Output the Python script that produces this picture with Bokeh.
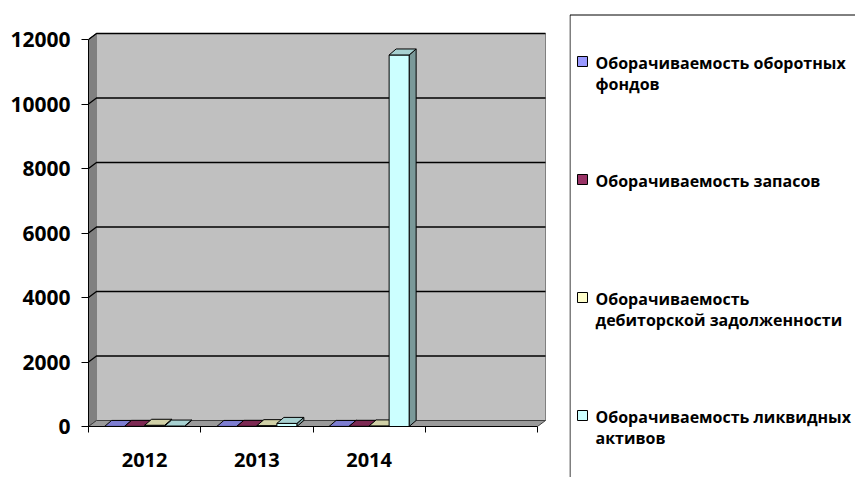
from bokeh.plotting import figure
from bokeh.models import Range1d, FixedTicker, ColumnDataSource
from bokeh.layouts import row
from bokeh.embed import file_html
from bokeh.resources import INLINE
from bokeh.core.properties import value

# ---- data ----
years = ["2012", "2013", "2014"]
n_slots = 4  # axis slots (three years + one empty slot)
series_names = [
    "Оборачиваемость оборотных\nфондов",
    "Оборачиваемость запасов",
    "Оборачиваемость\nдебиторской задолженности",
    "Оборачиваемость ликвидных\nактивов",
]
fondy = [2.1, 2.4, 2.6]
zapasy = [5.3, 5.9, 6.2]
debitor = [38, 26, 18]
likvid = [14, 96, 11520]
y_ticks = [0, 2000, 4000, 6000, 8000, 10000, 12000]
colors = ["#9999FF", "#993366", "#FFFFCC", "#CCFFFF"]

series = [fondy, zapasy, debitor, likvid]

# ---- geometry (pixels -> data) ----
PX_X = 112.25              # px per category slot
PX_Y = 387.0 / 12000.0     # px per unit
CH_W, CH_H = 569, 477
LEFT, BOTTOM = 88, 51
FRAME_W = CH_W - LEFT
FRAME_H = CH_H - BOTTOM
wall_dx = 8 / PX_X
wall_dy = 6 / PX_Y
bar_dx = 7 / PX_X
bar_dy = 6 / PX_Y
bar_w = 20 / PX_X
ymax = y_ticks[-1]

FONT = "Open Sans"


def shade(hex_color, f):
    h = hex_color.lstrip("#")
    r, g, b = (int(h[i:i + 2], 16) for i in (0, 2, 4))
    return "#%02x%02x%02x" % (int(r * f), int(g * f), int(b * f))


p = figure(width=CH_W, height=CH_H,
           x_range=Range1d(0, FRAME_W / PX_X), y_range=Range1d(0, FRAME_H / PX_Y),
           output_backend="svg", toolbar_location=None,
           min_border_left=LEFT, min_border_right=0, min_border_top=0, min_border_bottom=BOTTOM)
p.background_fill_color = "white"
p.border_fill_color = "white"
p.outline_line_color = None
p.xgrid.visible = False
p.ygrid.visible = False

# walls
p.patch([0, wall_dx, wall_dx, 0], [0, wall_dy, ymax + wall_dy, ymax],
        fill_color="#808080", line_color="#404040", line_width=1)
p.quad(left=[wall_dx], right=[n_slots + wall_dx], bottom=[wall_dy], top=[ymax + wall_dy],
       fill_color="#C0C0C0", line_color="#808080", line_width=1)
p.patch([0, n_slots, n_slots + wall_dx, wall_dx], [0, 0, wall_dy, wall_dy],
        fill_color="#9A9A9A", line_color="#404040", line_width=1)

# gridlines on walls
gx, gy = [], []
for v in y_ticks[1:]:
    gx.append([0, wall_dx, n_slots + wall_dx])
    gy.append([v, v + wall_dy, v + wall_dy])
p.multi_line(gx, gy, line_color="black", line_width=1.3)

# bars (3D faces)
xs, ys, fc = [], [], []
for j in range(len(years)):
    for i, s in enumerate(series):
        v = s[j]
        cx = j + 0.5 + (i - 1.5) * bar_w
        l, r = cx - bar_w / 2, cx + bar_w / 2
        xs.append([r, r + bar_dx, r + bar_dx, r]); ys.append([0, bar_dy, v + bar_dy, v]); fc.append(shade(colors[i], 0.6))
        xs.append([l, r, r, l]); ys.append([0, 0, v, v]); fc.append(colors[i])
        xs.append([l, r, r + bar_dx, l + bar_dx]); ys.append([v, v, v + bar_dy, v + bar_dy]); fc.append(shade(colors[i], 0.82))
src = ColumnDataSource(dict(xs=xs, ys=ys, fc=fc))
p.patches("xs", "ys", source=src, fill_color="fc", line_color="black", line_width=1)

# axes
ya = p.yaxis[0]
ya.ticker = FixedTicker(ticks=y_ticks)
ya.bounds = (0, ymax)
ya.axis_line_color = "black"
ya.major_tick_out = 7
ya.major_tick_in = 0
ya.minor_tick_line_color = None
ya.major_label_standoff = 11
ya.major_label_text_font = FONT
ya.major_label_text_font_style = "bold"
ya.major_label_text_font_size = "21px"
ya.major_label_text_color = "black"

xa = p.xaxis[0]
centers = [j + 0.5 for j in range(len(years))]
xa.ticker = FixedTicker(ticks=centers, minor_ticks=list(range(n_slots + 1)))
xa.major_label_overrides = {c: y for c, y in zip(centers, years)}
xa.bounds = (0, n_slots)
xa.axis_line_color = "black"
xa.major_tick_line_color = None
xa.minor_tick_line_color = "black"
xa.minor_tick_out = 6
xa.minor_tick_in = 0
xa.major_tick_out = 0
xa.major_label_standoff = 20
xa.major_label_text_font = FONT
xa.major_label_text_font_style = "bold"
xa.major_label_text_font_size = "20px"
xa.major_label_text_color = "black"

# ---- legend panel ----
LX0 = CH_W
LW, LH = 855 - CH_W, CH_H
lg = figure(width=LW, height=LH, x_range=Range1d(0, LW), y_range=Range1d(0, LH),
            output_backend="svg", toolbar_location=None,
            min_border=0, min_border_left=0, min_border_right=0,
            min_border_top=0, min_border_bottom=0,
            x_axis_location=None, y_axis_location=None)
lg.outline_line_color = None
lg.xgrid.visible = False
lg.ygrid.visible = False
lg.background_fill_color = "white"
lg.border_fill_color = "white"
for fig in (p, lg):
    try:
        fig.frame_align = False
    except Exception:
        pass

box_top = LH - 14.5
lg.line([0.5, 0.5, LW], [0, box_top, box_top], line_color="black", line_width=1)

first_y = LH - 61
step = 118
line_gap = 21
mx, my, tx, ty, tt = [], [], [], [], []
for k, name in enumerate(series_names):
    yk = first_y - k * step
    mx.append(582 - LX0); my.append(yk)
    for m, part in enumerate(name.split("\n")):
        tx.append(595 - LX0); ty.append(yk - 1 - m * line_gap); tt.append(part)
lg.scatter(mx, my, marker="square", size=10, fill_color=colors, line_color="black", line_width=1)
lg.text(tx, ty, text=tt, text_font=value(FONT), text_font_style="bold",
        text_font_size="16px", text_baseline="middle", text_align="left", text_color="black")

layout = row(p, lg, spacing=0)
open("out.html", "w").write(file_html(layout, INLINE))
